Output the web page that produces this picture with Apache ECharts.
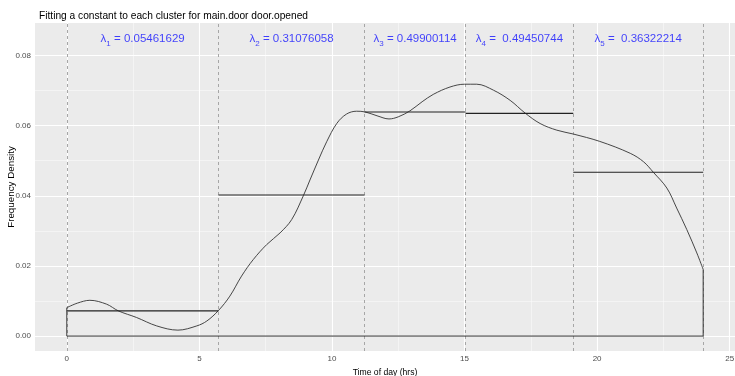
<!DOCTYPE html>
<html>
<head>
<meta charset="utf-8">
<script src="https://cdn.jsdelivr.net/npm/echarts@6/dist/echarts.min.js"></script>
<style>
  html, body { margin: 0; padding: 0; background: #fff; }
  #chart { width: 735px; height: 376px; }
</style>
</head>
<body>
<div id="chart"></div>
<script>
// density curve
const curveX = [0, 0.4, 0.87, 1.5, 1.94, 2.63, 3.39, 4.19, 4.9, 5.28, 5.72, 6.15, 6.59, 7.03, 7.54, 8.04, 8.48,
  8.92, 9.17, 9.49, 9.8, 10.18, 10.55, 10.93, 11.25, 11.7, 12.15, 12.5, 12.94, 13.4, 13.82, 14.45, 15.0, 15.46,
  16.09, 16.72, 17.28, 17.85, 18.48, 19.1, 20.1, 21.25, 21.75, 22.12, 22.63, 23.0, 23.38, 23.76, 24.0]
const curveY = [0.0081, 0.0094, 0.0102, 0.0091, 0.0072, 0.0053, 0.0029, 0.0017, 0.0029, 0.0043, 0.0073, 0.0114,
  0.0171, 0.0218, 0.0261, 0.0294, 0.0332, 0.0400, 0.0445, 0.0502, 0.0554, 0.0606, 0.0633, 0.0641, 0.0639, 0.0628,
  0.0619, 0.0625, 0.0642, 0.0668, 0.0689, 0.0710, 0.0718, 0.0718, 0.0701, 0.0672, 0.0636, 0.0606, 0.0587, 0.0576,
  0.0555, 0.0521, 0.0497, 0.0467, 0.0422, 0.0365, 0.0304, 0.0237, 0.0190]

// cluster boundaries and fitted constants
const bounds = [0, 5.72, 11.23, 15.04, 19.1, 24]
const levels = [0.0072, 0.0402, 0.0639, 0.0635, 0.0467]
const lambdas = ["0.05461629", "0.31076058", "0.49900114", " 0.49450744", " 0.36322214"]
const lambdaY = 0.0846

// axis ticks
const xMajor = [0, 5, 10, 15, 20, 25]
const xMinor = [2.5, 7.5, 12.5, 17.5, 22.5]
const yMajor = [0, 0.02, 0.04, 0.06, 0.08]
const yMinor = [0.01, 0.03, 0.05, 0.07]

const chart = echarts.init(document.getElementById("chart"))

const curve = curveX.map((x, i) => [x, curveY[i]])
const last = curve.length - 1
const outline = [
  [curveX[0], curveY[0]], [curveX[0], 0], [curveX[last], 0], [curveX[last], curveY[last]]
]

const gridLines = [
  ...xMinor.map(v => ({ xAxis: v, lineStyle: { color: "#fafafa", width: 0.6, type: "solid" } })),
  ...yMinor.map(v => ({ yAxis: v, lineStyle: { color: "#fafafa", width: 0.6, type: "solid" } })),
  ...xMajor.map(v => ({ xAxis: v, lineStyle: { color: "#fff", width: 1.1, type: "solid" } })),
  ...yMajor.map(v => ({ yAxis: v, lineStyle: { color: "#fff", width: 1.1, type: "solid" } }))
]

const steps = levels.map((y, i) => ({
  type: "line",
  data: [[bounds[i], y], [bounds[i + 1], y]],
  symbol: "none",
  lineStyle: { color: "#222", width: 1.1 },
  z: 4
}))

const blue = "#1414ff"
const option = {
  animation: false,
  textStyle: { fontFamily: "Liberation Sans, Arial, sans-serif" },
  title: {
    text: "Fitting a constant to each cluster for main.door door.opened",
    left: 34, top: 6,
    textStyle: { fontSize: 10.2, fontWeight: "normal", color: "#000" }
  },
  grid: {
    left: 35, right: 0, top: 23, bottom: 25,
    outerBoundsMode: "none", containLabel: false,
    show: true, backgroundColor: "#EBEBEB", borderWidth: 0
  },
  xAxis: {
    type: "value", min: -1.2, max: 25.2,
    name: "Time of day (hrs)", nameLocation: "middle", nameGap: 16,
    nameTextStyle: { fontSize: 8.6, color: "#000" },
    axisLine: { show: false },
    axisTick: { show: true, length: 3, customValues: xMajor, lineStyle: { color: "#333" } },
    axisLabel: { customValues: xMajor, fontSize: 8, color: "#4d4d4d", margin: 4 },
    splitLine: { show: false }
  },
  yAxis: {
    type: "value", min: -0.00425, max: 0.08925,
    name: "Frequency Density", nameLocation: "middle", nameGap: 19, nameMoveOverlap: false,
    nameTextStyle: { fontSize: 9.8, color: "#000" },
    axisLine: { show: false },
    axisTick: { show: true, length: 3, customValues: yMajor, lineStyle: { color: "#333" } },
    axisLabel: { customValues: yMajor, fontSize: 8, color: "#4d4d4d", margin: 4,
      formatter: v => v.toFixed(2) },
    splitLine: { show: false }
  },
  series: [
    {
      type: "line", data: [], silent: true,
      markLine: { z: 1, silent: true, symbol: "none", label: { show: false }, data: gridLines }
    },
    {
      type: "line", data: [], silent: true,
      markLine: {
        z: 3, silent: true, symbol: "none", label: { show: false },
        lineStyle: { color: "#a6a6a6", width: 1, type: [3, 3] },
        data: bounds.map(v => ({ xAxis: v }))
      }
    },
    {
      type: "line", data: outline, symbol: "none",
      lineStyle: { color: "#333", width: 1 }, z: 4
    },
    {
      type: "line", data: curve, symbol: "none", smooth: 0.35,
      lineStyle: { color: "#333", width: 0.9 }, z: 4
    },
    ...steps,
    {
      type: "scatter", symbolSize: 0, z: 6,
      data: lambdas.map((t, i) => [(bounds[i] + bounds[i + 1]) / 2, lambdaY]),
      label: {
        show: true, position: "inside",
        formatter: p => "{l|λ}{s|" + (p.dataIndex + 1) + "}{v| = " + lambdas[p.dataIndex] + "}",
        rich: {
          l: { fontSize: 11.5, color: blue },
          s: { fontSize: 8, color: blue, padding: [8, 0, 0, 0] },
          v: { fontSize: 11.5, color: blue }
        }
      }
    }
  ]
}

chart.setOption(option)
</script>
</body>
</html>
